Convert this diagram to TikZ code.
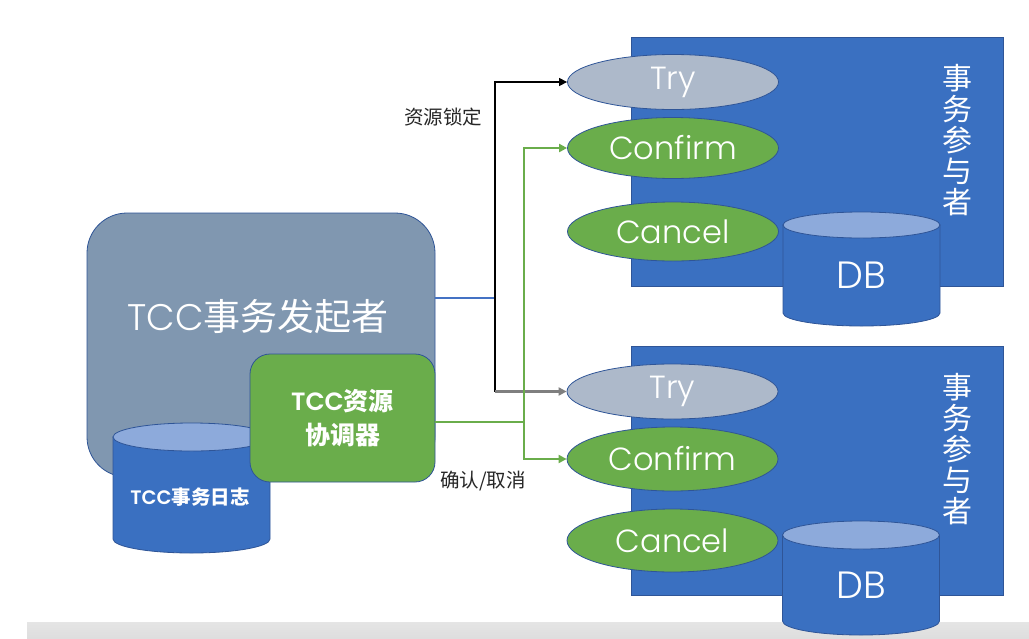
\documentclass[tikz,border=0pt]{standalone}
\usepackage{fontspec}
\setmainfont{Poppins}[UprightFont=* Light, BoldFont=* SemiBold]
\newfontfamily\cjk{Noto Sans CJK SC}
\usetikzlibrary{shapes.geometric,arrows.meta}
\definecolor{pblue}{HTML}{3A70C1}
\definecolor{edgeblue}{HTML}{2F5597}
\definecolor{trygray}{HTML}{ADB9CA}
\definecolor{tgreen}{HTML}{6AAD4B}
\definecolor{initgray}{HTML}{8097B0}
\definecolor{dbtop}{HTML}{8DAADB}
\definecolor{lineblue}{HTML}{4472C4}
\definecolor{arrgray}{HTML}{7F7F7F}
\definecolor{band}{HTML}{DEDEDE}
\tikzset{
  x=1pt, y=-1pt,
  pbox/.style={draw=edgeblue, fill=pblue, line width=0.8pt, minimum width=372pt, minimum height=249pt, inner sep=0pt},
  oval/.style={ellipse, draw=edgeblue, line width=0.8pt, minimum width=211pt, inner sep=0pt, text=white, font=\fontsize{32}{36}\selectfont},
  tryoval/.style={oval, fill=trygray, minimum height=55pt},
  greenoval/.style={oval, fill=tgreen, minimum height=61pt},
  vtext/.style={text=white, align=center, font=\cjk\fontsize{30}{31.2}\selectfont, inner sep=0pt},
  dbtext/.style={text=white, font=\fontsize{38}{40}\selectfont, inner sep=0pt},
  cylbody/.style={fill=pblue, draw=edgeblue, line width=0.8pt},
  cyltop/.style={fill=dbtop, draw=edgeblue, line width=0.8pt},
  lbl/.style={text=black!85, font=\cjk\fontsize{19.5}{21}\selectfont, inner sep=0pt},
  tip/.style={-{Triangle[length=8pt,width=8pt]}},
}
\newcommand{\cylinder}[5]{% cx, rx, ytopcenter, ybotcenter, ry
  \path[cylbody] (#1-#2,#3) -- (#1-#2,#4) arc[start angle=180, end angle=360, x radius=#2pt, y radius=#5pt] -- (#1+#2,#3) -- cycle;
  \path[cyltop] (#1,#3) ellipse[x radius=#2pt, y radius=#5pt];
}
\begin{document}
\begin{tikzpicture}
\useasboundingbox (0,0) rectangle (1029,638);
\fill[white] (0,0) rectangle (1029,638);
% bottom band
\shade[top color=band!80!white, bottom color=band] (27,622) rectangle (1029,638);

% participant 1
\node[pbox] (p1) at (817,161.5) {};
\node[tryoval] (try1) at (673,82) {Try};
\node[greenoval] (conf1) at (673,148) {Confirm};
\node[greenoval, minimum height=59pt] (canc1) at (673,231.5) {Cancel};
\node[vtext] (v1) at (957,140) {事\\务\\参\\与\\者};
\cylinder{861.5}{78.5}{225}{313}{13}
\node[dbtext] (db1) at (861,275) {DB};

% participant 2
\node[pbox] (p2) at (817,470.5) {};
\node[tryoval] (try2) at (672.5,391.5) {Try};
\node[greenoval, minimum height=64pt] (conf2) at (672.5,459) {Confirm};
\node[greenoval, minimum height=63pt] (canc2) at (672.5,540.5) {Cancel};
\node[vtext] (v2) at (957,449) {事\\务\\参\\与\\者};
\cylinder{861}{78.5}{535}{621}{14}
\node[dbtext] (db2) at (861,585) {DB};

% initiator
\node[draw=edgeblue, fill=initgray, line width=0.8pt, rounded corners=40pt, minimum width=348pt, minimum height=264pt, inner sep=0pt] (init) at (261,345) {};
\node[text=white, inner sep=0pt, font=\fontsize{37}{40}\selectfont] (inittxt) at (258,317) {TCC{\cjk 事务发起者}};
\cylinder{191.5}{78.5}{437}{539}{14}
\node[text=white, inner sep=0pt, font=\bfseries\fontsize{19.5}{21}\selectfont] (log) at (190,497) {TCC{\cjk\bfseries 事务日志}};
\node[draw=edgeblue, fill=tgreen, line width=0.8pt, rounded corners=20pt, minimum width=185pt, minimum height=128pt, inner sep=0pt, text=white, align=center, font=\bfseries\fontsize{25}{34}\selectfont] (coord) at (342.5,418) {TCC{\cjk\bfseries 资源}\\{\cjk\bfseries 协调器}};

% connectors
\coordinate (jA) at (495,298);
\coordinate (jB) at (495,391.5);
\coordinate (jG) at (524,422);
\draw[lineblue, line width=2.5pt] (jA -| init.east) -- (jA);
\draw[black, line width=1.4pt, tip] (jB) |- (try1.west);
\draw[arrgray, line width=2.2pt, tip] (jB) -- (try2.west);
\draw[tgreen, line width=2.5pt] (jG -| coord.east) -- (jG);
\draw[tgreen, line width=2.5pt, tip] (jG) |- (conf1.west);
\draw[tgreen, line width=2.5pt, tip] (jG) |- (conf2.west);

% labels
\node[lbl] (l1) at (443,117) {资源锁定};
\node[lbl] (l2) at (483,481) {确认/取消};
\end{tikzpicture}
\end{document}
